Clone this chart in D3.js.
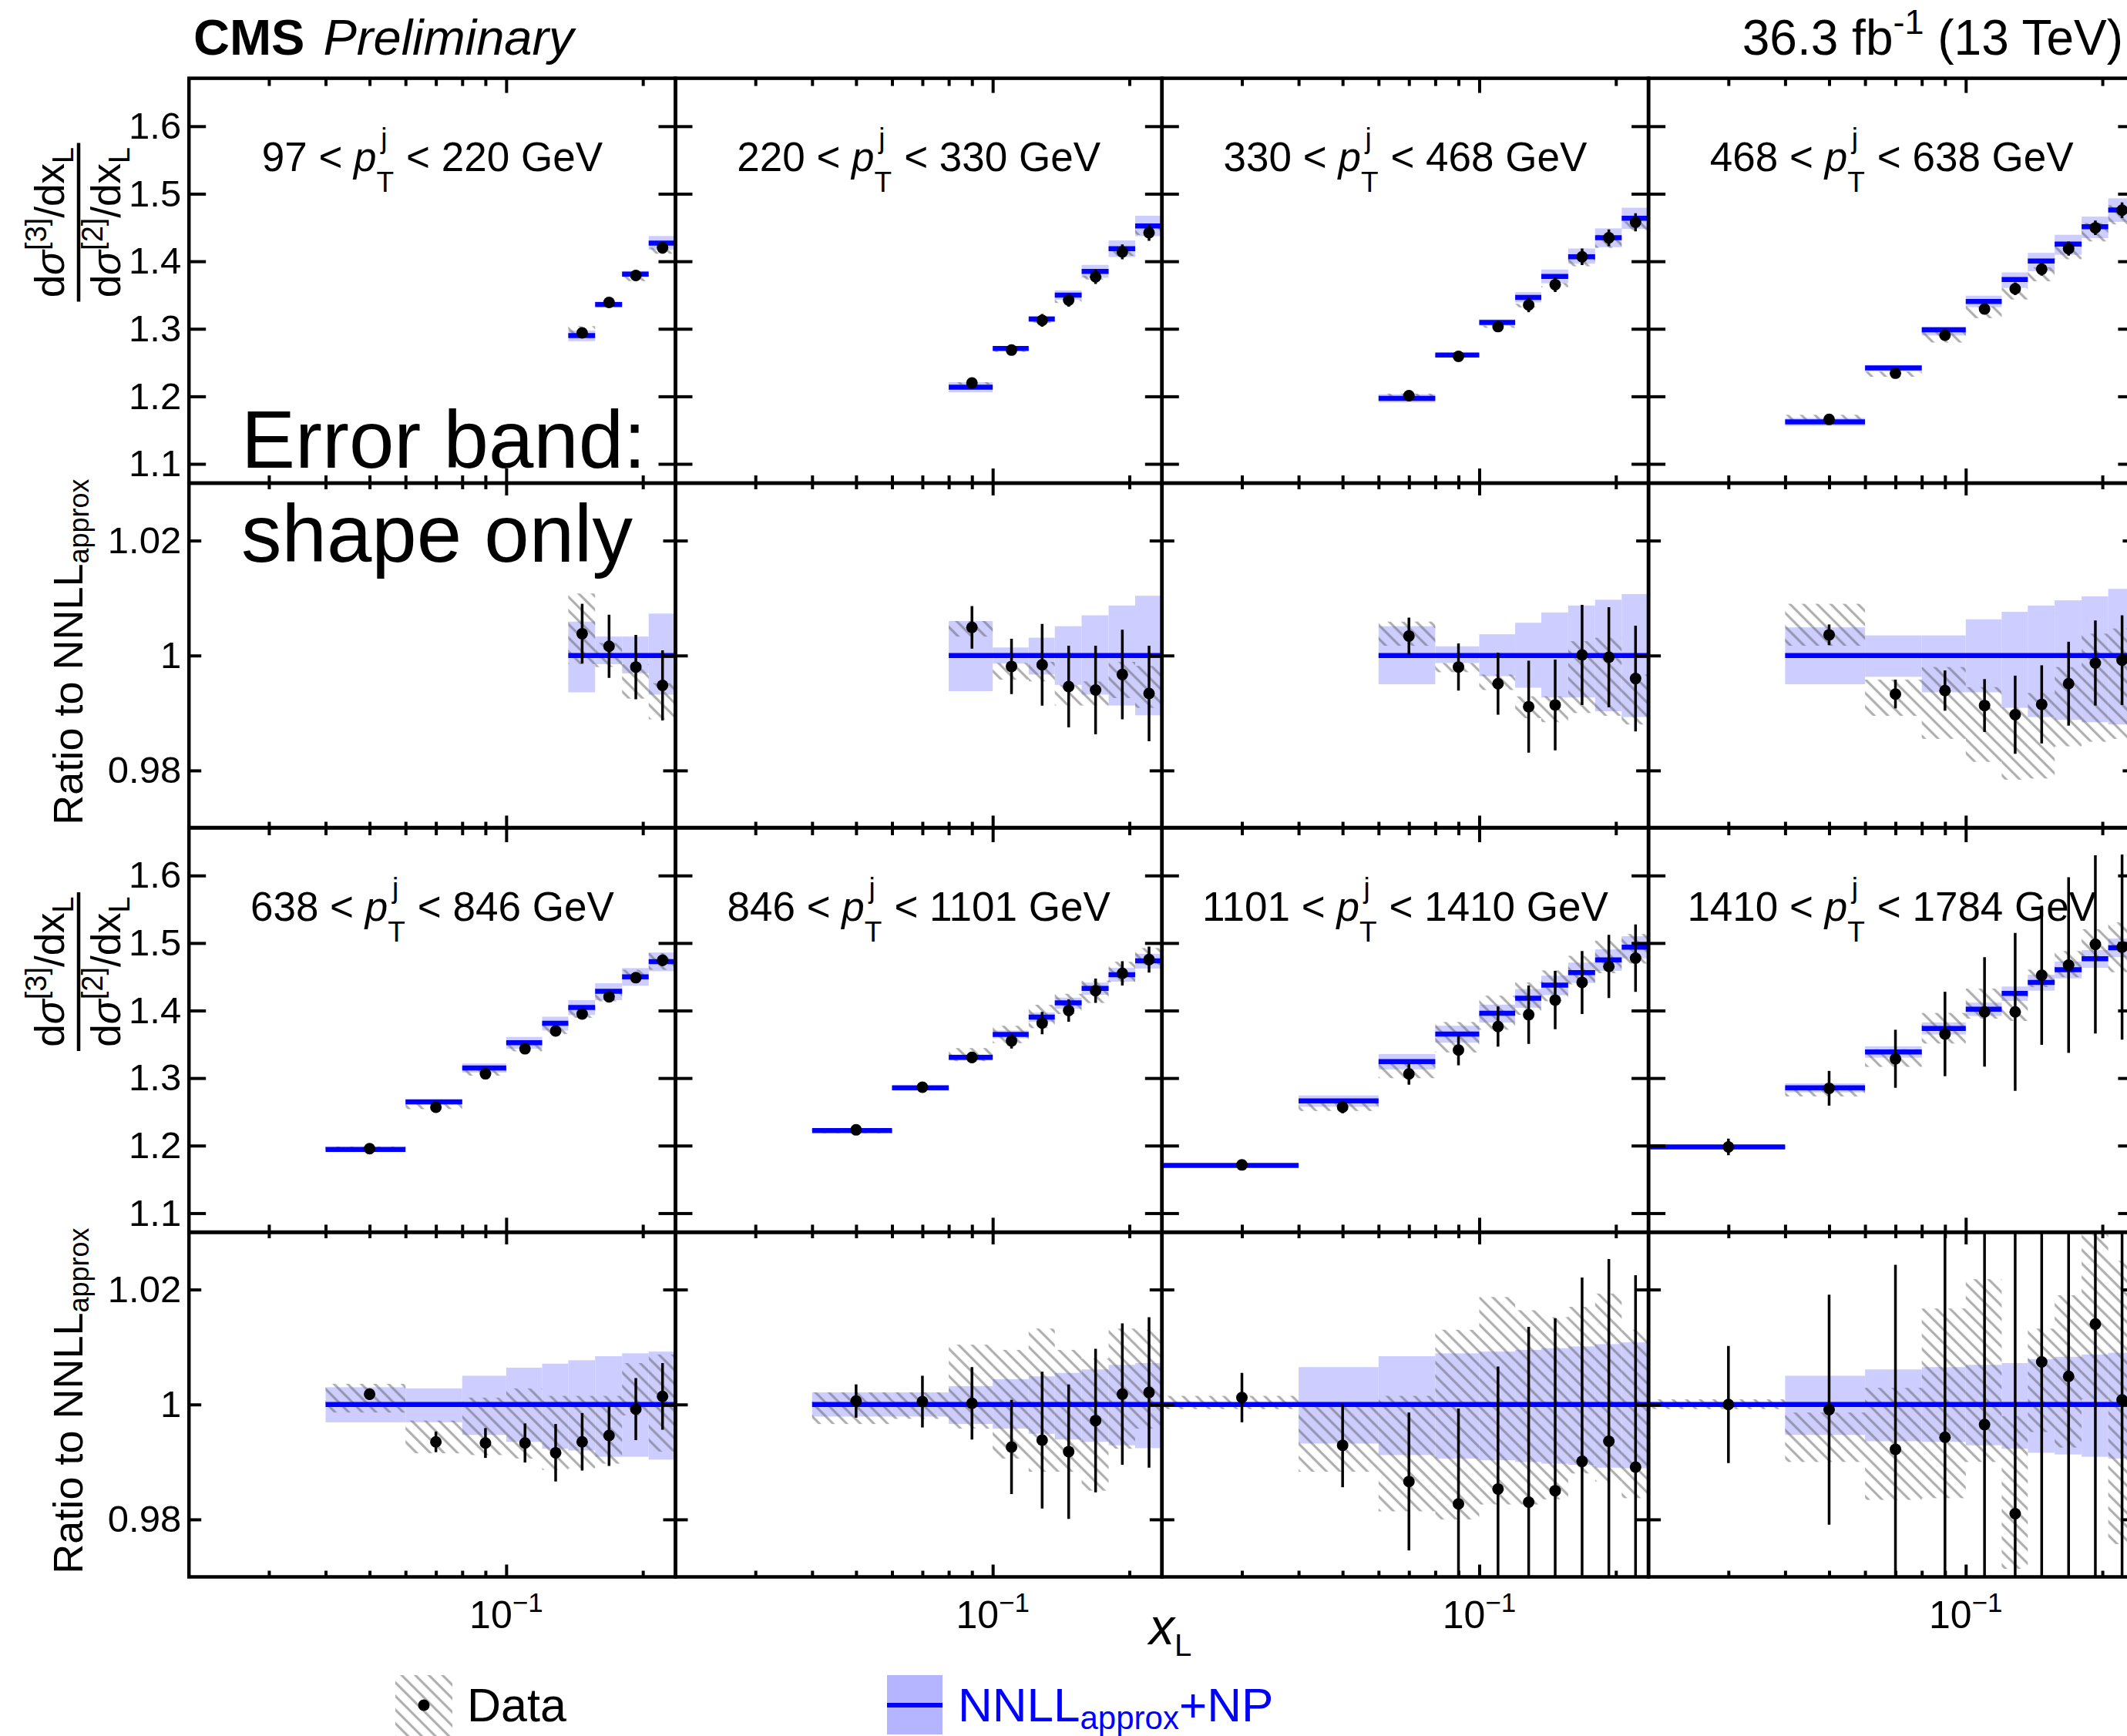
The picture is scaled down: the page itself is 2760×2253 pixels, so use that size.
<!DOCTYPE html>
<html>
<head>
<meta charset="utf-8">
<script src="https://cdn.jsdelivr.net/npm/d3@7"></script>
<style>
  body { margin: 0; background: #fff; overflow: hidden; }
  svg text { font-family: "Liberation Sans", Arial, Helvetica, sans-serif; }
</style>
</head>
<body>
<svg id="chart"></svg>
<script>
// x_L bin edges shared by all pT bins
const binEdges = [0.02, 0.04, 0.06, 0.08, 0.1, 0.12, 0.137, 0.157, 0.18, 0.206, 0.236];
const ptRanges = [[97, 220], [220, 330], [330, 468], [468, 638], [638, 846], [846, 1101], [1101, 1410], [1410, 1784]];
// index of the first populated bin in each pT panel
const firstBin = [6, 3, 2, 1, 1, 1, 0, 0];

// NNLL_approx+NP prediction (upper panels)
const nnll = [
  [1.290, 1.336, 1.381, 1.427],
  [1.2136, 1.271, 1.3146, 1.350, 1.385, 1.4186, 1.4523],
  [1.197, 1.2612, 1.3093, 1.3466, 1.3775, 1.4067, 1.4348, 1.4637],
  [1.1622, 1.242, 1.2985, 1.3406, 1.3731, 1.4003, 1.4256, 1.4512, 1.4761],
  [1.1943, 1.2648, 1.3151, 1.3523, 1.3811, 1.4047, 1.4284, 1.450, 1.4724],
  [1.2224, 1.2857, 1.3306, 1.3645, 1.3902, 1.4114, 1.4327, 1.4531, 1.4735],
  [1.1706, 1.2661, 1.3245, 1.3653, 1.3959, 1.4184, 1.4376, 1.4563, 1.4751, 1.4939],
  [1.198, 1.2857, 1.3388, 1.3735, 1.402, 1.4253, 1.4416, 1.4604, 1.4767, 1.4931]
];
// measured E3C/E2C (upper panels)
const dataTop = [
  [1.294, 1.339, 1.379, 1.420],
  [1.2198, 1.2685, 1.3126, 1.3425, 1.377, 1.414, 1.4423],
  [1.201, 1.2592, 1.3033, 1.3354, 1.3654, 1.4067, 1.4348, 1.4577],
  [1.1658, 1.2343, 1.2905, 1.3294, 1.3594, 1.3883, 1.4188, 1.4496, 1.4757],
  [1.1955, 1.2568, 1.3063, 1.3434, 1.3697, 1.395, 1.4204, 1.4487, 1.4745],
  [1.2233, 1.2865, 1.3306, 1.3551, 1.3816, 1.400, 1.4294, 1.4551, 1.4755],
  [1.1714, 1.2571, 1.3061, 1.3416, 1.3763, 1.3939, 1.4155, 1.4416, 1.4653, 1.4776],
  [1.198, 1.2849, 1.3286, 1.3653, 1.398, 1.398, 1.4522, 1.4673, 1.498, 1.4939]
];
// data / NNLL (lower panels)
const ratio = [
  [1.0038, 1.0016, 0.998, 0.9948],
  [1.0049, 0.9981, 0.9984, 0.9946, 0.9940, 0.9967, 0.9934],
  [1.0034, 0.998, 0.9951, 0.9911, 0.9914, 1.0001, 0.9997, 0.9960],
  [1.0036, 0.9933, 0.9939, 0.9913, 0.9897, 0.9915, 0.9951, 0.9987, 0.9992],
  [1.0018, 0.9935, 0.9933, 0.9933, 0.9916, 0.9935, 0.9946, 0.9992, 1.0014],
  [1.0006, 1.0005, 1.0002, 0.9926, 0.9938, 0.9918, 0.9972, 1.0018, 1.0021],
  [1.0012, 0.9929, 0.9866, 0.9827, 0.9853, 0.9830, 0.9850, 0.9901, 0.9936, 0.9891],
  [1.0000, 0.9991, 0.9922, 0.9943, 0.9965, 0.9810, 1.0074, 1.0049, 1.0140, 1.0008]
];
// statistical half-width, in ratio units
const statErr = [
  [0.0052, 0.0055, 0.0056, 0.0061],
  [0.0037, 0.0048, 0.0071, 0.0071, 0.0077, 0.0078, 0.0083],
  [0.0032, 0.0041, 0.0054, 0.008, 0.0079, 0.0087, 0.0087, 0.0092],
  [0.0018, 0.0025, 0.0035, 0.0046, 0.0068, 0.0068, 0.0073, 0.0074, 0.0078],
  [0.001, 0.0018, 0.0026, 0.0034, 0.005, 0.005, 0.0053, 0.0054, 0.0058],
  [0.0029, 0.0045, 0.0063, 0.0082, 0.0119, 0.0117, 0.0125, 0.0123, 0.0131],
  [0.0043, 0.0073, 0.012, 0.0166, 0.0213, 0.0305, 0.030, 0.032, 0.0317, 0.0334],
  [0.0102, 0.020, 0.0321, 0.0455, 0.0578, 0.082, 0.0714, 0.089, 0.0894, 0.0918]
];
// hatched data band [low, high], in ratio units
const systBand = [
  [[0.9985, 1.0108], [0.998, 1.0022], [0.9925, 0.9985], [0.9889, 0.9952]],
  [[1.0033, 1.006], [0.9958, 0.9987], [0.9955, 0.9989], [0.9913, 0.9949], [0.9913, 0.9955], [0.9926, 0.9989], [0.9909, 0.9982]],
  [[1.0017, 1.0059], [0.9971, 0.9987], [0.994, 0.9967], [0.9891, 0.9929], [0.9884, 0.9929], [0.99, 1.0025], [0.9895, 1.0031], [0.988, 0.9967]],
  [[1.0017, 1.009], [0.9895, 0.9958], [0.9855, 0.998], [0.9815, 0.9945], [0.9784, 0.991], [0.9786, 0.9935], [0.9842, 0.998], [0.985, 1.0038], [0.9855, 1.0047]],
  [[0.9986, 1.0036], [0.9915, 0.9972], [0.9912, 1.0012], [0.9906, 1.0028], [0.9886, 1.0015], [0.9889, 1.0015], [0.9897, 1.0015], [0.9981, 1.0072], [0.9918, 1.0087]],
  [[0.9966, 1.0021], [0.9975, 1.0021], [0.9958, 1.0104], [0.9906, 1.0095], [0.9883, 1.0132], [0.9883, 1.0095], [0.985, 1.008], [0.9923, 1.0132], [0.9958, 1.013]],
  [[0.9992, 1.0015], [0.9883, 0.9998], [0.9814, 1.0015], [0.98, 1.013], [0.9826, 1.0187], [0.9826, 1.0164], [0.9835, 1.0152], [0.988, 1.017], [0.9866, 1.0193], [0.9837, 1.013]],
  [[0.9992, 1.0009], [0.99, 0.9986], [0.9834, 1.0029], [0.9837, 1.0167], [0.99, 1.0218], [0.9714, 0.998], [0.9952, 1.0132], [0.9925, 1.019], [1.0009, 1.0296], [0.9757, 1.025]]
];
// NNLL uncertainty band [low, high], relative to the prediction
const theoryBand = [
  [[0.9936, 1.0059], [0.9985, 1.0033], [0.9969, 1.0033], [0.9932, 1.0073]],
  [[0.9938, 1.006], [0.9986, 1.0014], [0.9967, 1.0031], [0.9949, 1.0051], [0.9932, 1.007], [0.9913, 1.0087], [0.9896, 1.0104]],
  [[0.995, 1.0051], [0.9987, 1.0016], [0.9964, 1.0037], [0.9944, 1.0057], [0.9927, 1.0075], [0.9927, 1.0087], [0.9903, 1.0097], [0.9893, 1.0107]],
  [[0.995, 1.0049], [0.9963, 1.0035], [0.9936, 1.0035], [0.9936, 1.0063], [0.9909, 1.0076], [0.9893, 1.0087], [0.9888, 1.0096], [0.9884, 1.0103], [0.988, 1.0116]],
  [[0.9969, 1.003], [0.9969, 1.0028], [0.9947, 1.005], [0.9935, 1.0064], [0.9923, 1.0071], [0.992, 1.0077], [0.9909, 1.0084], [0.9909, 1.0089], [0.9904, 1.0092]],
  [[0.9979, 1.0021], [0.9979, 1.0021], [0.9966, 1.0032], [0.9958, 1.0044], [0.9949, 1.0049], [0.9939, 1.0055], [0.9935, 1.0061], [0.9929, 1.0069], [0.9924, 1.0072]],
  [[0.9998, 1.0002], [0.9932, 1.0065], [0.9912, 1.0084], [0.9906, 1.0089], [0.9903, 1.0092], [0.99, 1.0095], [0.9897, 1.0098], [0.9895, 1.0101], [0.989, 1.0105], [0.9889, 1.0108]],
  [[0.9998, 1.0002], [0.9947, 1.005], [0.9936, 1.0061], [0.9935, 1.0065], [0.9929, 1.0069], [0.9923, 1.0072], [0.9916, 1.0079], [0.9913, 1.0083], [0.9909, 1.0087], [0.9906, 1.009]]
];

const topTicks = [1.1, 1.2, 1.3, 1.4, 1.5, 1.6];
const ratioTicks = [0.98, 1, 1.02];
const xMinorTicks = [0.03, 0.04, 0.05, 0.06, 0.07, 0.08, 0.09, 0.2];
const xMajorTicks = [0.1];

const W = 2760, H = 2253;
const blue = '#0000ff', bandCol = '#cdcdff';
const colX = [245.2, 876.5, 1507.8, 2139.1];
const panelW = 631.3;
const topY = [101.6, 1074], topH = 525.4;
const ratY = [627, 1599], ratH = 447.5;

const svg = d3.select('#chart').attr('width', W).attr('height', H);
svg.append('rect').attr('width', W).attr('height', H).attr('fill', '#fff');

const defs = svg.append('defs');
const pat = defs.append('pattern').attr('id', 'hatch')
  .attr('patternUnits', 'userSpaceOnUse')
  .attr('width', 12.5).attr('height', 12.5)
  .attr('patternTransform', 'rotate(-45)');
pat.append('line').attr('x1', 6.25).attr('x2', 6.25).attr('y1', 0).attr('y2', 12.5)
  .attr('stroke', 'rgba(95,95,95,0.5)').attr('stroke-width', 3.2);
defs.append('clipPath').attr('id', 'clipTop').append('rect').attr('width', panelW).attr('height', topH);
defs.append('clipPath').attr('id', 'clipRat').append('rect').attr('width', panelW).attr('height', ratH);

const x = d3.scaleLog().domain([binEdges[0], binEdges[binEdges.length - 1]]).range([0, panelW]);
const yTop = d3.scaleLinear().domain([1.0715, 1.671]).range([topH, 0]);
const yRat = d3.scaleLinear().domain([0.97, 1.03]).range([ratH, 0]);

function bins(i) {
  return nnll[i].map((th, j) => {
    const lo = binEdges[firstBin[i] + j], hi = binEdges[firstBin[i] + j + 1];
    return { lo, hi, xc: (lo + hi) / 2, th, dat: dataTop[i][j], r: ratio[i][j],
             st: statErr[i][j], sy: systBand[i][j], bd: theoryBand[i][j] };
  });
}

function axes(g, y, ticks, h, yLen, xMaj, xMin, labels) {
  const style = sel => {
    sel.select('.domain').remove();
    sel.selectAll('line').attr('stroke', '#000').attr('stroke-width', 4);
    sel.selectAll('text').attr('font-size', 49).attr('fill', '#000')
      .attr('font-family', '"Liberation Sans", Arial, sans-serif');
  };
  g.append('g').call(d3.axisTop(x).tickValues(xMinorTicks).tickSize(-xMin).tickFormat('')).call(style);
  g.append('g').call(d3.axisTop(x).tickValues(xMajorTicks).tickSize(-xMaj).tickFormat('')).call(style);
  g.append('g').attr('transform', `translate(0,${h})`)
    .call(d3.axisBottom(x).tickValues(xMinorTicks).tickSize(-xMin).tickFormat('')).call(style);
  g.append('g').attr('transform', `translate(0,${h})`)
    .call(d3.axisBottom(x).tickValues(xMajorTicks).tickSize(-xMaj).tickFormat('')).call(style);
  g.append('g').call(d3.axisLeft(y).tickValues(ticks).tickSize(-yLen).tickPadding(10)
    .tickFormat(labels ? d3.format('~g') : '')).call(style);
  g.append('g').attr('transform', `translate(${panelW},0)`)
    .call(d3.axisRight(y).tickValues(ticks).tickSize(-yLen).tickFormat('')).call(style);
  g.append('rect').attr('width', panelW).attr('height', h)
    .attr('fill', 'none').attr('stroke', '#000').attr('stroke-width', 4.5);
}

nnll.forEach((_, i) => {
  const c = i % 4, r = Math.floor(i / 4);
  const b = bins(i);

  // upper panel
  const gt = svg.append('g').attr('transform', `translate(${colX[c]},${topY[r]})`);
  const it = gt.append('g').attr('clip-path', 'url(#clipTop)');
  it.selectAll('rect.band').data(b).join('rect').attr('class', 'band')
    .attr('x', d => x(d.lo)).attr('width', d => x(d.hi) - x(d.lo))
    .attr('y', d => yTop(d.th * d.bd[1])).attr('height', d => yTop(d.th * d.bd[0]) - yTop(d.th * d.bd[1]))
    .attr('fill', bandCol);
  it.selectAll('rect.syst').data(b).join('rect').attr('class', 'syst')
    .attr('x', d => x(d.lo)).attr('width', d => x(d.hi) - x(d.lo))
    .attr('y', d => yTop(d.th * d.sy[1])).attr('height', d => yTop(d.th * d.sy[0]) - yTop(d.th * d.sy[1]))
    .attr('fill', 'url(#hatch)');
  it.selectAll('line.pred').data(b).join('line').attr('class', 'pred')
    .attr('x1', d => x(d.lo)).attr('x2', d => x(d.hi))
    .attr('y1', d => yTop(d.th)).attr('y2', d => yTop(d.th))
    .attr('stroke', blue).attr('stroke-width', 6.5);
  it.selectAll('line.stat').data(b).join('line').attr('class', 'stat')
    .attr('x1', d => x(d.xc)).attr('x2', d => x(d.xc))
    .attr('y1', d => yTop(d.dat + d.st * d.th)).attr('y2', d => yTop(d.dat - d.st * d.th))
    .attr('stroke', '#000').attr('stroke-width', 3.5);
  it.selectAll('circle').data(b).join('circle')
    .attr('cx', d => x(d.xc)).attr('cy', d => yTop(d.dat)).attr('r', 7.5).attr('fill', '#000');
  axes(gt, yTop, topTicks, topH, 22, 19, 10, c === 0);

  const title = gt.append('text').attr('x', panelW / 2).attr('y', 120.5)
    .attr('text-anchor', 'middle').attr('font-size', 53);
  title.append('tspan').text(`${ptRanges[i][0]} < `);
  title.append('tspan').attr('font-style', 'italic').text('p');
  title.append('tspan').attr('font-size', 37).attr('dy', 27).text('T');
  title.append('tspan').attr('font-size', 37).attr('dx', -17).attr('dy', -57).text('j');
  title.append('tspan').attr('dx', 10).attr('dy', 30).text(` < ${ptRanges[i][1]} GeV`);

  // ratio panel
  const gr = svg.append('g').attr('transform', `translate(${colX[c]},${ratY[r]})`);
  const ir = gr.append('g').attr('clip-path', 'url(#clipRat)');
  ir.selectAll('rect.band').data(b).join('rect').attr('class', 'band')
    .attr('x', d => x(d.lo)).attr('width', d => x(d.hi) - x(d.lo))
    .attr('y', d => yRat(d.bd[1])).attr('height', d => yRat(d.bd[0]) - yRat(d.bd[1]))
    .attr('fill', bandCol);
  ir.selectAll('rect.syst').data(b).join('rect').attr('class', 'syst')
    .attr('x', d => x(d.lo)).attr('width', d => x(d.hi) - x(d.lo))
    .attr('y', d => yRat(d.sy[1])).attr('height', d => yRat(d.sy[0]) - yRat(d.sy[1]))
    .attr('fill', 'url(#hatch)');
  ir.append('line')
    .attr('x1', x(b[0].lo)).attr('x2', x(b[b.length - 1].hi))
    .attr('y1', yRat(1)).attr('y2', yRat(1))
    .attr('stroke', blue).attr('stroke-width', 6.5);
  ir.selectAll('line.stat').data(b).join('line').attr('class', 'stat')
    .attr('x1', d => x(d.xc)).attr('x2', d => x(d.xc))
    .attr('y1', d => yRat(d.r + d.st)).attr('y2', d => yRat(d.r - d.st))
    .attr('stroke', '#000').attr('stroke-width', 3.5);
  ir.selectAll('circle').data(b).join('circle')
    .attr('cx', d => x(d.xc)).attr('cy', d => yRat(d.r)).attr('r', 7.5).attr('fill', '#000');
  axes(gr, yRat, ratioTicks, ratH, 16, 16, 8, c === 0);

  if (r === 1) {
    const lab = gr.append('text').attr('x', x(0.1)).attr('y', ratH + 66)
      .attr('text-anchor', 'middle').attr('font-size', 50);
    lab.append('tspan').text('10');
    lab.append('tspan').attr('font-size', 35).attr('dy', -21).text('\u22121');
  }
});

// y-axis titles
[0, 1].forEach(r => {
  const cy = topY[r] + 187;
  svg.append('line').attr('x1', 102).attr('x2', 102).attr('y1', cy - 103).attr('y2', cy + 103)
    .attr('stroke', '#000').attr('stroke-width', 4.5);
  [[83, '3'], [156, '2']].forEach(([bx, n]) => {
    const t = svg.append('text').attr('transform', `translate(${bx},${cy}) rotate(-90)`)
      .attr('text-anchor', 'middle').attr('font-size', 53);
    t.append('tspan').text('d');
    t.append('tspan').attr('font-style', 'italic').text('\u03c3');
    t.append('tspan').attr('font-size', 38).attr('dy', -23).text(`[${n}]`);
    t.append('tspan').attr('dy', 23).text('/dx');
    t.append('tspan').attr('font-size', 38).attr('dy', 12).text('L');
  });
  const rt = svg.append('text').attr('transform', `translate(107,${ratY[r] + 219}) rotate(-90)`)
    .attr('text-anchor', 'middle').attr('font-size', 54);
  rt.append('tspan').text('Ratio to NNLL');
  rt.append('tspan').attr('font-size', 36).attr('dy', 8).text('approx');
});

// header
const cms = svg.append('text').attr('x', 251).attr('y', 70.5).attr('font-size', 65);
cms.append('tspan').attr('font-weight', 'bold').text('CMS');
cms.append('tspan').attr('font-style', 'italic').attr('dx', 6).text(' Preliminary');
const lumi = svg.append('text').attr('x', 2755).attr('y', 70.5).attr('font-size', 64).attr('text-anchor', 'end');
lumi.append('tspan').text('36.3 fb');
lumi.append('tspan').attr('font-size', 45).attr('dy', -27).text('-1');
lumi.append('tspan').attr('dy', 27).text(' (13 TeV)');

// annotation
svg.append('text').attr('x', 313).attr('y', 607).attr('font-size', 105).text('Error band:');
svg.append('text').attr('x', 313).attr('y', 729).attr('font-size', 105).text('shape only');

// x-axis title
const xt = svg.append('text').attr('x', 1491).attr('y', 2134).attr('font-size', 66);
xt.append('tspan').attr('font-style', 'italic').text('x');
xt.append('tspan').attr('font-size', 40).attr('dy', 15).text('L');

// legend
svg.append('rect').attr('x', 513).attr('y', 2174).attr('width', 74).attr('height', 79).attr('fill', 'url(#hatch)');
svg.append('circle').attr('cx', 550).attr('cy', 2213).attr('r', 7.5).attr('fill', '#000');
svg.append('text').attr('x', 606).attr('y', 2234).attr('font-size', 61).text('Data');
svg.append('rect').attr('x', 1151).attr('y', 2174).attr('width', 72).attr('height', 77).attr('fill', '#b4b4ff');
svg.append('line').attr('x1', 1151).attr('x2', 1223).attr('y1', 2213).attr('y2', 2213)
  .attr('stroke', blue).attr('stroke-width', 6);
const lt = svg.append('text').attr('x', 1243).attr('y', 2234).attr('font-size', 62).attr('fill', blue);
lt.append('tspan').text('NNLL');
lt.append('tspan').attr('font-size', 42).attr('dy', 10).text('approx');
lt.append('tspan').attr('dy', -10).text('+NP');
</script>
</body>
</html>
